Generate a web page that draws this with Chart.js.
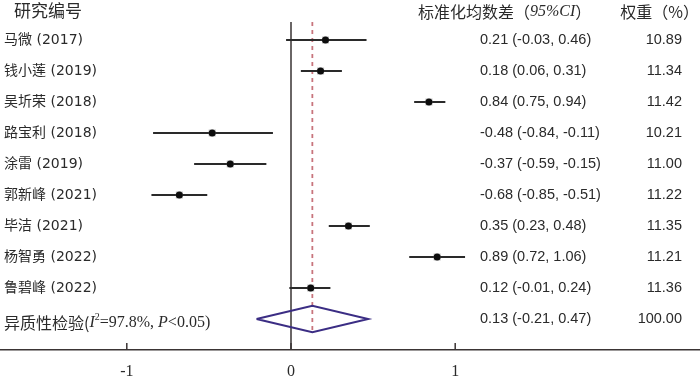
<!DOCTYPE html>
<html>
<head>
<meta charset="utf-8">
<script src="https://cdn.jsdelivr.net/npm/chart.js@4.4.1/dist/chart.umd.min.js"></script>
<style>
  html, body { margin: 0; padding: 0; background: #fff; }
  #wrap { width: 700px; height: 377px; position: relative; }
</style>
</head>
<body>
<div id="wrap"><canvas id="forest" width="700" height="377"></canvas></div>
<script>
const studies = ['马微 (2017)', '钱小莲 (2019)', '吴圻荣 (2018)', '路宝利 (2018)', '涂雷 (2019)',
  '郭新峰 (2021)', '毕洁 (2021)', '杨智勇 (2022)', '鲁碧峰 (2022)'];
const smd = [0.21, 0.18, 0.84, -0.48, -0.37, -0.68, 0.35, 0.89, 0.12];
const ciLow = [-0.03, 0.06, 0.75, -0.84, -0.59, -0.85, 0.23, 0.72, -0.01];
const ciHigh = [0.46, 0.31, 0.94, -0.11, -0.15, -0.51, 0.48, 1.06, 0.24];
const weights = ['10.89', '11.34', '11.42', '10.21', '11.00', '11.22', '11.35', '11.21', '11.36'];
const pooled = { est: 0.13, lo: -0.21, hi: 0.47, weight: '100.00' };
const xTicks = [-1, 0, 1];

const fmt = v => v.toFixed(2);
const pooledRow = studies.length;
const lineTop = -0.58;      // where the reference lines start (row units)
const diamondHalf = 0.43;

const ciSets = studies.map((s, i) => ({
  type: 'line',
  data: [{ x: ciLow[i], y: i }, { x: ciHigh[i], y: i }],
  borderColor: '#2a2a2a',
  borderWidth: 2,
  pointRadius: 0,
  order: 3
}));

const points = smd.map((v, i) => ({ x: v, y: i }));

const datasets = [
  {
    type: 'line',
    data: [{ x: 0, y: lineTop }, { x: 0, y: 10.1 }],
    borderColor: '#3a3434',
    borderWidth: 1.5,
    pointRadius: 0,
    order: 6
  },
  {
    type: 'line',
    data: [{ x: pooled.est, y: lineTop }, { x: pooled.est, y: pooledRow + diamondHalf }],
    borderColor: '#c8747c',
    borderWidth: 1.8,
    borderDash: [4, 4],
    pointRadius: 0,
    order: 5
  },
  ...ciSets,
  {
    type: 'scatter',
    data: points,
    pointStyle: 'rect',
    pointRadius: 5,
    backgroundColor: 'rgba(150,150,150,0.55)',
    borderWidth: 0,
    order: 2
  },
  {
    type: 'scatter',
    data: points,
    pointStyle: 'circle',
    pointRadius: 3.5,
    backgroundColor: '#0d0d0d',
    borderWidth: 0,
    order: 1
  },
  {
    type: 'line',
    data: [
      { x: pooled.lo, y: pooledRow },
      { x: pooled.est, y: pooledRow - diamondHalf },
      { x: pooled.hi, y: pooledRow },
      { x: pooled.est, y: pooledRow + diamondHalf },
      { x: pooled.lo, y: pooledRow }
    ],
    borderColor: '#3b2d84',
    borderWidth: 2,
    pointRadius: 0,
    fill: false,
    order: 4
  }
];

// text columns and small tick marks
const forestText = {
  id: 'forestText',
  afterDraw(chart) {
    const ctx = chart.ctx;
    const xs = chart.scales.x;
    const ys = chart.scales.y;
    const bottom = chart.chartArea.bottom;
    ctx.save();

    ctx.strokeStyle = '#3a3434';
    ctx.lineWidth = 1.5;
    xTicks.forEach(t => {
      const px = xs.getPixelForValue(t);
      ctx.beginPath();
      ctx.moveTo(px, bottom - 7);
      ctx.lineTo(px, bottom);
      ctx.stroke();
    });

    ctx.fillStyle = '#2a2a2a';
    ctx.textBaseline = 'middle';

    ctx.font = '17px "Noto Sans CJK SC"';
    ctx.textAlign = 'left';
    ctx.fillText('研究编号', 14, 11);
    ctx.font = '16px "Noto Sans CJK SC"';
    ctx.fillText('标准化均数差（', 418, 12);
    let w = ctx.measureText('标准化均数差（').width;
    ctx.font = 'italic 16px "Liberation Serif"';
    ctx.fillText('95%CI', 418 + w, 12);
    w += ctx.measureText('95%CI').width;
    ctx.font = '16px "Noto Sans CJK SC"';
    ctx.fillText('）', 418 + w, 12);
    ctx.textAlign = 'right';
    ctx.fillText('权重（%）', 699, 12);

    studies.forEach((s, i) => {
      const y = ys.getPixelForValue(i);
      ctx.textAlign = 'left';
      ctx.font = '14px "DejaVu Sans", "Noto Sans CJK SC"';
      ctx.fillText(s, 4, y);
      ctx.font = '14.5px "Liberation Sans"';
      ctx.fillText(fmt(smd[i]) + ' (' + fmt(ciLow[i]) + ', ' + fmt(ciHigh[i]) + ')', 480, y);
      ctx.textAlign = 'right';
      ctx.fillText(weights[i], 682, y);
    });

    const py = ys.getPixelForValue(pooledRow);
    ctx.font = '14.5px "Liberation Sans"';
    ctx.textAlign = 'left';
    ctx.fillText(fmt(pooled.est) + ' (' + fmt(pooled.lo) + ', ' + fmt(pooled.hi) + ')', 480, py);
    ctx.textAlign = 'right';
    ctx.fillText(pooled.weight, 682, py);

    // heterogeneity label with mixed fonts
    ctx.textAlign = 'left';
    let x = 4;
    const ly = py + 4;
    const parts = [
      ['异质性检验(', '16px "Noto Sans CJK SC"', 0],
      ['I', 'italic 16px "Liberation Serif"', 0],
      ['2', '10px "Liberation Serif"', -6],
      ['=97.8%, ', '16px "Liberation Serif"', 0],
      ['P', 'italic 16px "Liberation Serif"', 0],
      ['<0.05)', '16px "Liberation Serif"', 0]
    ];
    parts.forEach(([t, f, dy]) => {
      ctx.font = f;
      ctx.fillText(t, x, ly + dy);
      x += ctx.measureText(t).width;
    });
    ctx.restore();
  }
};

new Chart(document.getElementById('forest'), {
  data: { datasets },
  options: {
    responsive: false,
    animation: false,
    layout: { padding: 0, autoPadding: false },
    plugins: { legend: { display: false }, tooltip: { enabled: false } },
    scales: {
      x: {
        type: 'linear',
        min: -291 / 164.2,
        max: 409 / 164.2,
        afterBuildTicks: s => { s.ticks = xTicks.map(v => ({ value: v })); },
        afterFit: s => { s.height = 27; },
        grid: { display: false, drawTicks: false },
        border: { display: true, color: '#3a3434', width: 1.5 },
        ticks: {
          padding: 12,
          color: '#2a2a2a',
          font: { family: '"Liberation Serif"', size: 16 },
          callback: v => String(v)
        }
      },
      y: {
        type: 'linear',
        display: false,
        reverse: true,
        min: -40 / 31,
        max: 310 / 31
      }
    }
  },
  plugins: [forestText]
});
</script>
</body>
</html>
